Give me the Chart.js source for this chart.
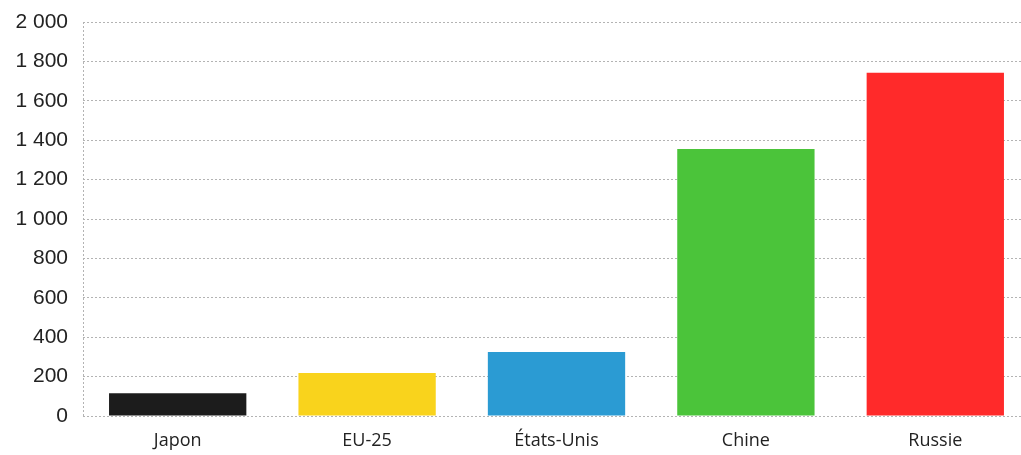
<!DOCTYPE html>
<html lang="fr">
<head>
  <meta charset="UTF-8" />
  <title>Comparaison par pays</title>
  <script src="https://cdn.jsdelivr.net/npm/chart.js"></script>
  <style>
    html, body { margin: 0; padding: 0; background: #fff; overflow: hidden; }
    .wrap { width: 1030px; height: 455px; }
  </style>
</head>
<body>
  <div class="wrap">
    <canvas id="chart" width="1030" height="455"></canvas>
  </div>

  <script>
    // values per country
    const categories = ['Japon', 'EU-25', 'États-Unis', 'Chine', 'Russie'];
    const values = [115, 218, 325, 1355, 1742];
    const barColors = ['#1c1c1c', '#f9d31c', '#2b9bd3', '#4bc43a', '#ff2a2a'];
    const yTicks = [0, 200, 400, 600, 800, 1000, 1200, 1400, 1600, 1800, 2000];

    const gridColor = '#b3b3b3';

    const ctx = document.getElementById('chart').getContext('2d');

    new Chart(ctx, {
      type: 'bar',
      data: {
        labels: categories,
        datasets: [{
          data: values,
          backgroundColor: barColors,
          borderWidth: 0,
          categoryPercentage: 1,
          barPercentage: 0.725
        }]
      },
      options: {
        responsive: false,
        animation: false,
        layout: { padding: { top: 22, right: 0, left: 0, bottom: 0 } },
        plugins: {
          legend: { display: false },
          tooltip: { enabled: false }
        },
        scales: {
          x: {
            // only the left edge line is kept, as a dotted vertical axis
            grid: {
              drawTicks: false,
              color: (c) => c.index === 0 ? gridColor : 'rgba(0,0,0,0)'
            },
            border: { display: false, dash: [2, 2] },
            ticks: {
              color: '#222',
              padding: 14,
              font: { family: 'Open Sans', size: 18 }
            },
            afterFit: (scale) => { scale.height = 39; }
          },
          y: {
            min: 0,
            max: 2000,
            afterBuildTicks: (scale) => {
              scale.ticks = yTicks.map(v => ({ value: v }));
            },
            grid: {
              color: gridColor,
              lineWidth: 1,
              drawTicks: false
            },
            border: { display: false, dash: [2, 2] },
            ticks: {
              color: '#222',
              padding: 15,
              font: { family: 'Liberation Sans', size: 21 },
              callback: (v) => String(v).replace(/\B(?=(\d{3})+(?!\d))/g, ' ')
            },
            afterFit: (scale) => {
              scale.width = 83;
              scale.paddingTop = 0;
              scale.paddingBottom = 0;
            }
          }
        }
      }
    });
  </script>
</body>
</html>
